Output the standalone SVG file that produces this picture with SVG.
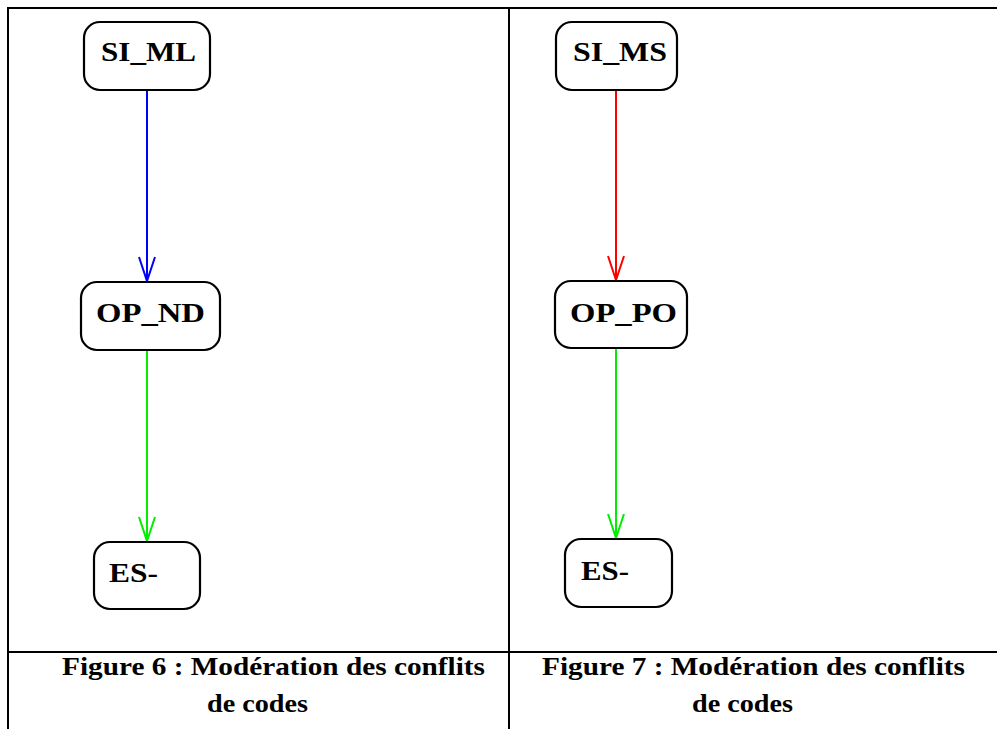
<svg xmlns="http://www.w3.org/2000/svg" width="997" height="729" viewBox="0 0 997 729">
<style>
.frame{stroke:#000;stroke-width:2;fill:none}
.node rect{fill:#fff;stroke:#000;stroke-width:2.2}
.node text{font-family:"Liberation Serif","Times New Roman",Times,serif;font-weight:bold;font-size:27px;fill:#000}
.cap{font-family:"Liberation Serif","Times New Roman",Times,serif;font-weight:bold;font-size:26px;fill:#000}
.edge{fill:none;stroke-width:2}
</style>
<g id="frame">
<line class="frame" x1="8" y1="8" x2="997" y2="8"/>
<line class="frame" x1="8" y1="7" x2="8" y2="729"/>
<line class="frame" x1="509" y1="7" x2="509" y2="729"/>
<line class="frame" x1="8" y1="652" x2="997" y2="652"/>
</g>
<g id="connectors">
<path class="edge" stroke="#0000ff" d="M147 90 V281 M139 257 L147 281 L155 257"/>
<path class="edge" stroke="#00ee00" d="M147 350 V541 M139 517 L147 541 L155 517"/>
<path class="edge" stroke="#ff0000" d="M616 90 V280 M608 256 L616 280 L624 256"/>
<path class="edge" stroke="#00ee00" d="M616 348 V538 M608 514 L616 538 L624 514"/>
</g>
<g id="SI_ML" class="node">
<rect x="84" y="22" width="126" height="68" rx="16"/>
<text x="101" y="61" textLength="95" lengthAdjust="spacingAndGlyphs">SI_ML</text>
</g>
<g id="OP_ND" class="node">
<rect x="81" y="282" width="139" height="68" rx="16"/>
<text x="96" y="322" textLength="109" lengthAdjust="spacingAndGlyphs">OP_ND</text>
</g>
<g id="ES_left" class="node">
<rect x="94" y="542" width="106" height="67" rx="16"/>
<text x="109" y="582" textLength="49" lengthAdjust="spacingAndGlyphs">ES-</text>
</g>
<g id="SI_MS" class="node">
<rect x="556" y="22" width="121" height="68" rx="16"/>
<text x="573" y="61" textLength="94" lengthAdjust="spacingAndGlyphs">SI_MS</text>
</g>
<g id="OP_PO" class="node">
<rect x="555" y="281" width="132" height="67" rx="16"/>
<text x="570" y="322" textLength="107" lengthAdjust="spacingAndGlyphs">OP_PO</text>
</g>
<g id="ES_right" class="node">
<rect x="565" y="539" width="107" height="68" rx="16"/>
<text x="581" y="580" textLength="48" lengthAdjust="spacingAndGlyphs">ES-</text>
</g>
<g id="captions">
<text class="cap" x="62" y="675" textLength="423" lengthAdjust="spacingAndGlyphs">Figure 6 : Modération des conflits</text>
<text class="cap" x="207" y="712" textLength="101" lengthAdjust="spacingAndGlyphs">de codes</text>
<text class="cap" x="542" y="675" textLength="423" lengthAdjust="spacingAndGlyphs">Figure 7 : Modération des conflits</text>
<text class="cap" x="692" y="712" textLength="101" lengthAdjust="spacingAndGlyphs">de codes</text>
</g>
</svg>
